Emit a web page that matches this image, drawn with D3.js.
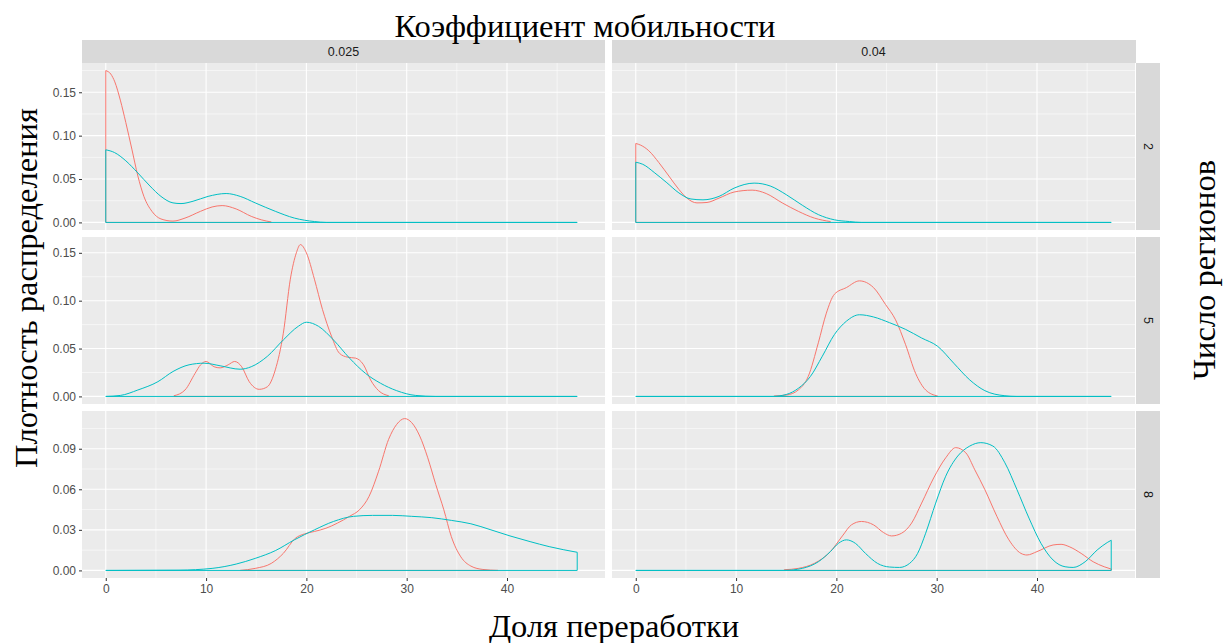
<!DOCTYPE html>
<html><head><meta charset="utf-8">
<script src="https://cdn.jsdelivr.net/npm/d3@7"></script>
<style>body{margin:0;background:#fff}svg{display:block}</style>
</head><body>
<svg id="chart" width="1223" height="643"></svg>
<script>
// ---- data ----
const colLabels = ["0.025", "0.04"];
const rowLabels = ["2", "5", "8"];
const seriesNames = ["red", "cyan"];
const xTicks = [0, 10, 20, 30, 40];
const xMinor = [5, 15, 25, 35, 45];
const yTicksRows = [[0, 0.05, 0.10, 0.15], [0, 0.05, 0.10, 0.15], [0, 0.03, 0.06, 0.09]];
const yMinorRows = [[0.025, 0.075, 0.125, 0.175], [0.025, 0.075, 0.125], [0.015, 0.045, 0.075, 0.105]];
const titleTop = "Коэффициент мобильности";
const titleX = "Доля переработки";
const titleY = "Плотность распределения";
const titleRight = "Число регионов";

// row "2", col "0.025"
const red_2_025 = [[0,0.175],[0.5,0.171],[0.9,0.162],[1.45,0.141],[2.0,0.115],[2.6,0.0845],[3.2,0.0535],[3.8,0.030],[4.6,0.0128],[5.5,0.004],[6.7,0.0015],[7.9,0.005],[9.45,0.0128],[10.6,0.0178],[11.6,0.0194],[13.0,0.0155],[14.5,0.007],[15.5,0.003],[16.5,0.0005]];
const cyan_2_025 = [[0,0.0837],[0.86,0.0806],[2.0,0.071],[3.2,0.057],[4.4,0.042],[5.5,0.030],[6.7,0.0225],[7.5,0.0217],[8.7,0.0244],[10.2,0.030],[12.0,0.0333],[13.4,0.030],[14.9,0.0225],[16.9,0.0128],[18.8,0.005],[20.8,0.001],[22,0],[47.0,0]];
// row "2", col "0.04"
const red_2_04 = [[0,0.091],[0.5,0.089],[1.3,0.0826],[2.3,0.069],[3.3,0.0535],[4.3,0.038],[5.1,0.028],[6.1,0.0225],[7.1,0.023],[8.3,0.028],[9.8,0.035],[11.6,0.0372],[13.0,0.0333],[14.6,0.0225],[16.2,0.0128],[17.8,0.005],[19.4,0.001]];
const cyan_2_04 = [[0,0.0694],[0.7,0.067],[1.9,0.057],[3.1,0.0457],[4.3,0.034],[5.5,0.027],[6.7,0.026],[8.3,0.030],[9.8,0.0395],[11.8,0.0453],[13.4,0.042],[15.0,0.032],[16.6,0.0198],[18.2,0.009],[19.8,0.003],[21.3,0.001],[22.5,0],[47.4,0]];
// row "5", col "0.025"
const red_5_025 = [[6.8,0.0007],[7.9,0.0067],[8.9,0.024],[9.45,0.033],[10.0,0.0365],[10.8,0.031],[11.4,0.0298],[12.2,0.033],[12.85,0.0365],[13.55,0.031],[14.3,0.0154],[15.3,0.0074],[16.1,0.010],[16.9,0.0277],[17.7,0.066],[18.4,0.1225],[19.0,0.150],[19.4,0.1586],[20.0,0.150],[20.8,0.1225],[21.6,0.091],[22.5,0.063],[23.3,0.045],[24.1,0.041],[24.9,0.040],[25.7,0.033],[26.4,0.0172],[27.2,0.006],[28.2,0.0007]];
const cyan_5_025 = [[0,0],[1.45,0.001],[3.2,0.0067],[5.2,0.0154],[6.7,0.026],[8.3,0.033],[9.8,0.0347],[11.4,0.032],[13.4,0.0284],[14.5,0.031],[16.1,0.0418],[17.7,0.059],[19.2,0.0733],[20.0,0.0775],[21.2,0.0733],[22.7,0.059],[24.3,0.040],[25.9,0.024],[27.4,0.0137],[29.0,0.006],[30.9,0.001],[32.9,0],[47.0,0]];
// row "5", col "0.04"
const red_5_04 = [[13.8,0.0005],[15.0,0.0014],[16.2,0.0067],[17.2,0.021],[18.2,0.056],[19.0,0.087],[19.8,0.1067],[21.0,0.1137],[22.3,0.1207],[23.7,0.1137],[24.9,0.096],[25.9,0.080],[26.9,0.054],[27.9,0.024],[28.9,0.0067],[30.1,0.0004]];
const cyan_5_04 = [[0,0],[13.6,0],[15.0,0.002],[16.2,0.0084],[17.4,0.0207],[18.6,0.042],[19.8,0.0646],[21.0,0.0786],[22.3,0.0853],[23.7,0.083],[25.3,0.077],[26.9,0.070],[28.5,0.061],[30.1,0.0523],[31.7,0.0347],[33.3,0.0172],[34.8,0.006],[36.8,0.0007],[38,0],[47.4,0]];
// row "8", col "0.025"
const red_8_025 = [[13.4,0],[14.9,0.0015],[16.5,0.0052],[17.7,0.0126],[18.9,0.0238],[19.8,0.027],[20.8,0.0288],[21.95,0.0312],[23.1,0.035],[24.3,0.040],[25.3,0.0449],[26.25,0.0548],[27.2,0.0734],[28.2,0.097],[29.0,0.108],[29.8,0.1123],[30.5,0.1093],[31.3,0.0994],[32.1,0.0833],[32.9,0.0635],[33.7,0.0449],[34.45,0.025],[35.4,0.010],[36.4,0.0032],[37.6,0.0007],[39.1,0]];
const cyan_8_025 = [[0,0],[7.3,0.0002],[10.6,0.0015],[13.0,0.0047],[14.9,0.0089],[16.9,0.0146],[18.8,0.0226],[20.8,0.030],[22.7,0.0362],[24.7,0.040],[26.6,0.0407],[28.6,0.0407],[30.5,0.040],[32.5,0.039],[34.45,0.037],[36.4,0.0345],[38.4,0.030],[40.3,0.0255],[42.3,0.0213],[44.2,0.0176],[47.0,0.0134]];
// row "8", col "0.04"
const red_8_04 = [[14.8,0.0005],[16.2,0.0015],[17.8,0.0052],[19.4,0.0139],[20.6,0.0255],[21.5,0.0337],[22.5,0.0362],[23.7,0.0337],[24.7,0.028],[25.5,0.0255],[26.5,0.0275],[27.5,0.035],[28.5,0.0498],[29.7,0.0684],[30.9,0.0833],[31.9,0.0908],[32.9,0.087],[33.8,0.0744],[34.8,0.0598],[36.0,0.040],[37.2,0.0226],[38.4,0.0126],[39.0,0.0114],[40.0,0.0139],[41.6,0.0188],[42.4,0.0193],[43.2,0.0176],[44.4,0.0126],[45.6,0.0064],[46.7,0.0027],[47.4,0.001]];
const cyan_8_04 = [[0,0],[14.8,0],[16.6,0.0015],[18.2,0.0064],[19.4,0.0139],[20.2,0.020],[21.0,0.0226],[21.9,0.020],[22.9,0.0126],[24.1,0.0052],[25.3,0.0025],[26.3,0.0022],[27.3,0.0052],[28.1,0.0126],[28.9,0.0275],[29.9,0.0498],[30.9,0.0697],[32.1,0.0846],[33.3,0.092],[34.4,0.0945],[35.6,0.092],[36.8,0.0796],[38.0,0.0598],[39.2,0.0387],[40.4,0.020],[41.6,0.0077],[42.8,0.0027],[43.6,0.0022],[44.8,0.0064],[46.0,0.0151],[47.0,0.0206],[47.4,0.0223]];

const panelData = [
  [[red_2_025, cyan_2_025], [red_2_04, cyan_2_04]],
  [[red_5_025, cyan_5_025], [red_5_04, cyan_5_04]],
  [[red_8_025, cyan_8_025], [red_8_04, cyan_8_04]]
];

// ---- layout ----
const colX = [82, 612], panelW = 523;
const rowY = [63, 237, 411], panelH = 167;
const stripTop = 40, stripH = 23, stripRX = 1136, stripRW = 24;
const colors = {red: "#F8766D", cyan: "#00BFC4"};
const sans = "'Liberation Sans', Arial, sans-serif";
const serif = "'Liberation Serif', 'Times New Roman', serif";
const tickFont = "12px", stripFont = "12.5px", titleFont = "32.5px";

const svg = d3.select("#chart");
svg.append("rect").attr("width", 1223).attr("height", 643).attr("fill", "#fff");

const allPts = panelData.flat(2).flat();
const xMax = d3.max(allPts, d => d[0]);
const x = d3.scaleLinear().domain([-0.05 * xMax, 1.05 * xMax]).range([0, panelW]);

rowLabels.forEach((rl, r) => {
  const rowPts = panelData[r].flat(2);
  const yMax = d3.max(rowPts, d => d[1]);
  const y = d3.scaleLinear().domain([-0.05 * yMax, 1.05 * yMax]).range([panelH, 0]);
  colLabels.forEach((cl, c) => {
    const g = svg.append("g").attr("transform", `translate(${colX[c]},${rowY[r]})`);
    g.append("rect").attr("width", panelW).attr("height", panelH).attr("fill", "#EBEBEB");
    // minor grid
    yMinorRows[r].filter(v => y(v) >= 0).forEach(v => g.append("line").attr("x1", 0).attr("x2", panelW).attr("y1", y(v)).attr("y2", y(v)).attr("stroke", "#fff").attr("stroke-width", 0.55));
    xMinor.forEach(v => g.append("line").attr("y1", 0).attr("y2", panelH).attr("x1", x(v)).attr("x2", x(v)).attr("stroke", "#fff").attr("stroke-width", 0.55));
    // major grid
    yTicksRows[r].forEach(v => g.append("line").attr("x1", 0).attr("x2", panelW).attr("y1", y(v)).attr("y2", y(v)).attr("stroke", "#fff").attr("stroke-width", 1.1));
    xTicks.forEach(v => g.append("line").attr("y1", 0).attr("y2", panelH).attr("x1", x(v)).attr("x2", x(v)).attr("stroke", "#fff").attr("stroke-width", 1.1));
    // density outlines
    const line = d3.line().x(d => x(d[0])).y(d => y(d[1])).curve(d3.curveMonotoneX);
    panelData[r][c].forEach((pts, s) => {
      const first = pts[0], last = pts[pts.length - 1];
      const dstr = line(pts) + `L${x(last[0])},${y(0)}L${x(first[0])},${y(0)}Z`;
      g.append("path").attr("d", dstr).attr("fill", "none")
        .attr("stroke", colors[seriesNames[s]]).attr("stroke-width", 1);
    });
    // axes
    if (c === 0) {
      const ax = g.append("g").call(d3.axisLeft(y).tickValues(yTicksRows[r]).tickFormat(d3.format(".2f")).tickSize(3).tickPadding(3));
      ax.select(".domain").remove();
      ax.selectAll("line").attr("stroke", "#333");
      ax.selectAll("text").attr("fill", "#4D4D4D").style("font-family", sans).style("font-size", tickFont);
    }
    if (r === rowLabels.length - 1) {
      const ax = g.append("g").attr("transform", `translate(0,${panelH})`).call(d3.axisBottom(x).tickValues(xTicks).tickFormat(d3.format("d")).tickSize(3).tickPadding(3));
      ax.select(".domain").remove();
      ax.selectAll("line").attr("stroke", "#333");
      ax.selectAll("text").attr("fill", "#4D4D4D").style("font-family", sans).style("font-size", tickFont);
    }
  });
  // right strip
  svg.append("rect").attr("x", stripRX).attr("y", rowY[r]).attr("width", stripRW).attr("height", panelH).attr("fill", "#D9D9D9");
  svg.append("text").attr("transform", `translate(${stripRX + stripRW / 2},${rowY[r] + panelH / 2}) rotate(90)`)
    .attr("text-anchor", "middle").attr("dy", "0.35em").attr("fill", "#1A1A1A")
    .style("font-family", sans).style("font-size", stripFont).text(rl);
});

// top strips
colLabels.forEach((cl, c) => {
  svg.append("rect").attr("x", colX[c]).attr("y", stripTop).attr("width", panelW + (c === 1 ? 1 : 0)).attr("height", stripH).attr("fill", "#D9D9D9");
  svg.append("text").attr("x", colX[c] + panelW / 2).attr("y", stripTop + stripH / 2).attr("dy", "0.35em")
    .attr("text-anchor", "middle").attr("fill", "#1A1A1A").style("font-family", sans).style("font-size", stripFont).text(cl);
});

// titles
svg.append("text").attr("x", 585).attr("y", 37).attr("text-anchor", "middle").style("font-family", serif).style("font-size", titleFont).attr("fill", "#000").text(titleTop);
svg.append("text").attr("x", 614).attr("y", 637).attr("text-anchor", "middle").style("font-family", serif).style("font-size", titleFont).attr("fill", "#000").text(titleX);
svg.append("text").attr("transform", "translate(37,288) rotate(-90)").attr("text-anchor", "middle").style("font-family", serif).style("font-size", titleFont).attr("fill", "#000").text(titleY);
svg.append("text").attr("transform", "translate(1215,270) rotate(-90)").attr("text-anchor", "middle").style("font-family", serif).style("font-size", titleFont).attr("fill", "#000").text(titleRight);
</script>
</body></html>
